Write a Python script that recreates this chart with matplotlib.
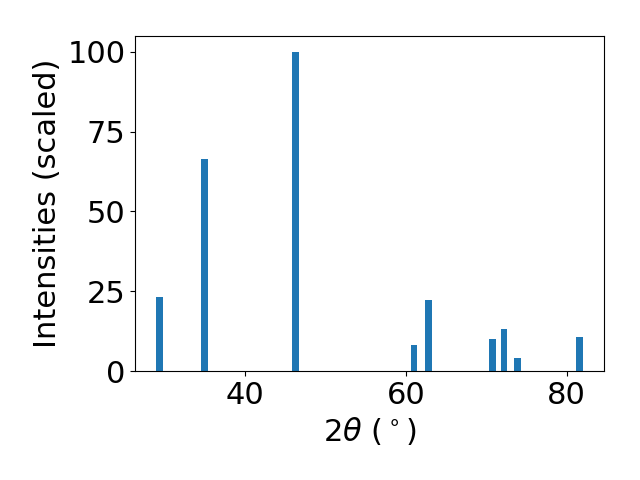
import matplotlib
matplotlib.use("Agg")
import matplotlib.pyplot as plt

two_theta = [29.4, 35.0, 46.3, 61.0, 62.8, 70.8, 72.2, 73.9, 81.6]
intensity = [23.2, 66.5, 100.0, 8.1, 22.3, 10.0, 13.2, 4.1, 10.6]

fig, ax = plt.subplots(figsize=(6.4, 4.8), dpi=100)
ax.bar(two_theta, intensity, width=0.8, color="#1f77b4")
ax.set_xlabel(r"2$\theta$ ($^\circ$)", fontsize=22)
ax.set_ylabel("Intensities (scaled)", fontsize=22)
ax.tick_params(labelsize=22)
ax.set_yticks([0, 25, 50, 75, 100])
fig.subplots_adjust(left=0.211, right=0.944, top=0.925, bottom=0.227)
fig.savefig("out.png")
